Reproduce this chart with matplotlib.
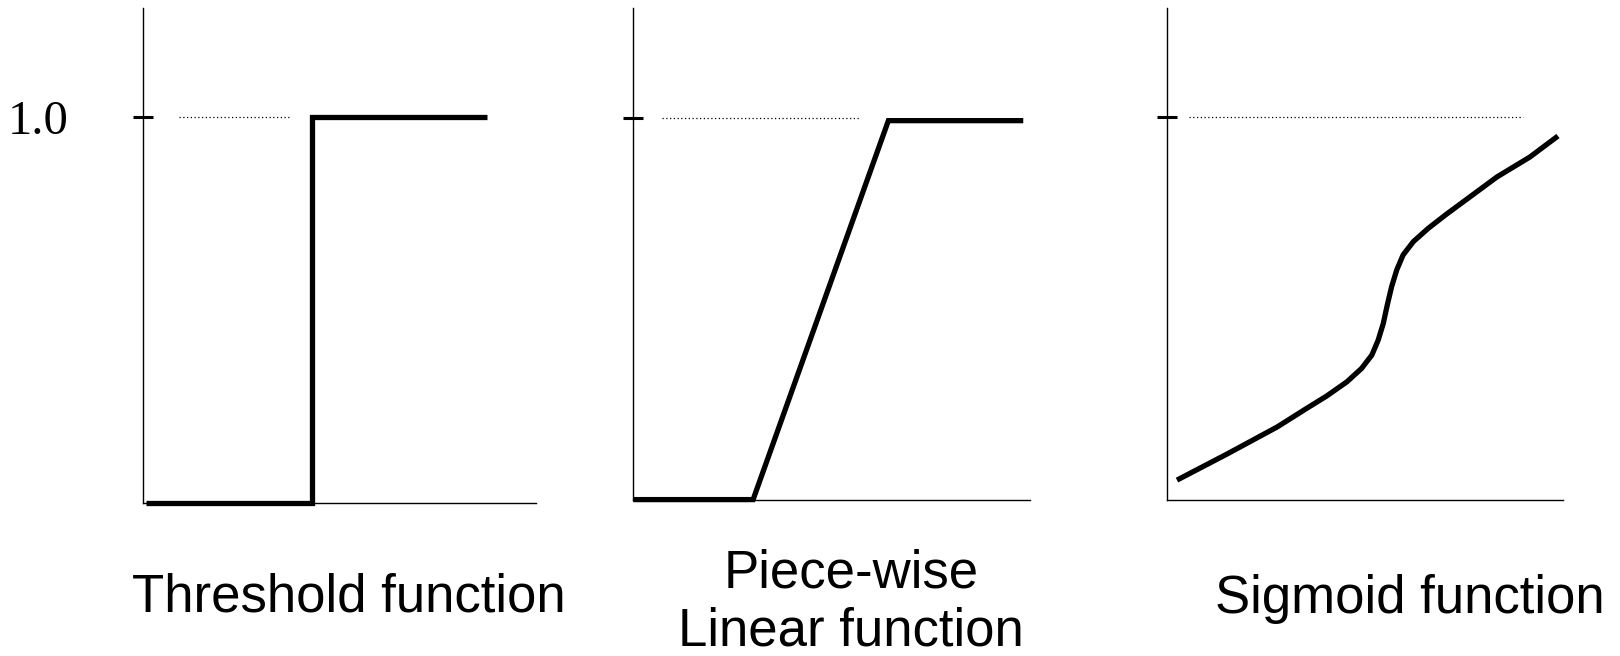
import numpy as np
import matplotlib.pyplot as plt

# data (y in units of the 1.0 mark)
thr_x = [0.007, 0.430, 0.430, 0.877]
thr_y = [0.0, 0.0, 1.0, 1.0]

pw_x = [0.0, 0.302, 0.643, 0.983]
pw_y = [0.0, 0.0, 0.992, 0.992]

sig_x = [0.026, 0.152, 0.279, 0.354, 0.404, 0.455, 0.492, 0.518, 0.534, 0.547, 0.557,
         0.568, 0.581, 0.597, 0.623, 0.661, 0.707, 0.766, 0.834, 0.917, 0.988]
sig_y = [0.051, 0.119, 0.190, 0.239, 0.271, 0.308, 0.343, 0.378, 0.417, 0.461, 0.509,
         0.557, 0.601, 0.640, 0.675, 0.710, 0.747, 0.792, 0.844, 0.896, 0.951]

dot_ranges = [(0.091, 0.371), (0.072, 0.571), (0.057, 0.901)]
titles = [["Threshold function"], ["Piece-wise", "Linear function"], ["Sigmoid function"]]

W, H = 1620, 656
fig = plt.figure(figsize=(W / 100, H / 100), dpi=100)

# panel boxes in pixels: left, right, x-axis y, tick y, top
boxes = [(142.9, 535.7, 503, 117.3, 8.4),
         (633.3, 1030, 499.6, 117.6, 8.4),
         (1166.7, 1562.7, 499.6, 117.3, 8.4)]
curves = [(thr_x, thr_y), (pw_x, pw_y), (sig_x, sig_y)]

for i, (l, r, b, t, top) in enumerate(boxes):
    ax = fig.add_axes([l / W, (H - b) / H, (r - l) / W, (b - top) / H])
    ax.set_xlim(0, 1)
    ax.set_ylim(0, (b - top) / (b - t))
    for s in ["top", "right"]:
        ax.spines[s].set_visible(False)
    for s in ["left", "bottom"]:
        ax.spines[s].set_linewidth(1.0)
        ax.spines[s].set_color("black")
    ax.set_xticks([])
    ax.set_yticks([1.0])
    ax.set_yticklabels(["1.0" if i == 0 else ""], family="Liberation Serif", fontsize=35)
    ax.tick_params(axis="y", direction="inout", length=14.4, width=2.2, pad=46)
    ax.patch.set_alpha(0)

    x0, x1 = dot_ranges[i]
    ax.hlines(1.0, x0, x1, colors="black", linestyles=(0, (1, 2)), linewidth=0.9)

    cx, cy = curves[i]
    ax.plot(cx, cy, color="black", linewidth=3.8, clip_on=False,
            solid_joinstyle="miter" if i < 2 else "round", solid_capstyle="butt")

# captions
caps = [(349, [612]), (851, [588, 645]), (1410, [613])]
for (cx, bases), lines in zip(caps, titles):
    for base, txt in zip(bases, lines):
        fig.text(cx / W, (H - base) / H, txt, ha="center", va="baseline",
                 family="Liberation Sans", fontsize=38)

fig.savefig("out.png", dpi=100)
